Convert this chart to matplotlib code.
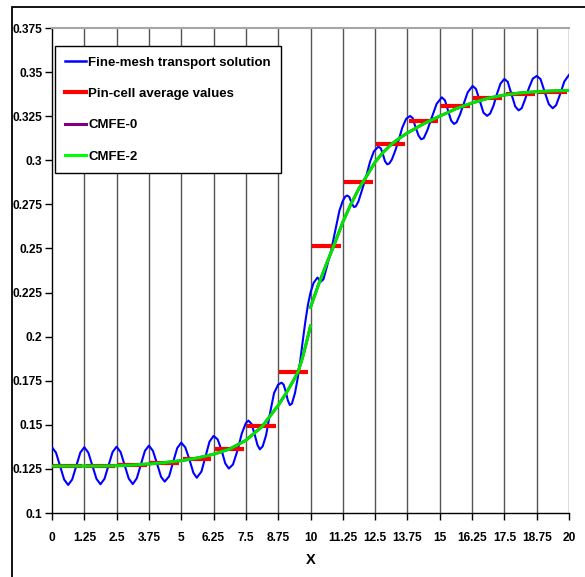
import numpy as np
import matplotlib
matplotlib.use('Agg')
import matplotlib.pyplot as plt
from matplotlib.patches import Rectangle
from matplotlib.lines import Line2D

# fine-mesh transport solution (x, flux)
fine_mesh = [
    (0.000, 0.1373), (0.156, 0.1342), (0.313, 0.1266), (0.469, 0.1190), (0.625, 0.1159), (0.781, 0.1190), (0.938, 0.1266), (1.094, 0.1342),
    (1.250, 0.1373), (1.406, 0.1342), (1.563, 0.1268), (1.719, 0.1194), (1.875, 0.1163), (2.031, 0.1194), (2.188, 0.1270), (2.344, 0.1346),
    (2.500, 0.1376), (2.656, 0.1345), (2.813, 0.1270), (2.969, 0.1195), (3.125, 0.1164), (3.281, 0.1197), (3.438, 0.1274), (3.594, 0.1352),
    (3.750, 0.1382), (3.906, 0.1352), (4.063, 0.1280), (4.219, 0.1205), (4.360, 0.1178), (4.531, 0.1208), (4.688, 0.1290), (4.844, 0.1368),
    (5.000, 0.1399), (5.156, 0.1372), (5.313, 0.1305), (5.469, 0.1228), (5.600, 0.1200), (5.781, 0.1235), (5.938, 0.1320), (6.094, 0.1405),
    (6.250, 0.1437), (6.406, 0.1418), (6.563, 0.1355), (6.700, 0.1282), (6.840, 0.1252), (7.000, 0.1275), (7.188, 0.1360), (7.340, 0.1450),
    (7.500, 0.1510), (7.600, 0.1524), (7.720, 0.1505), (7.840, 0.1445), (7.950, 0.1385), (8.040, 0.1361), (8.150, 0.1378), (8.280, 0.1440),
    (8.440, 0.1570), (8.590, 0.1680), (8.750, 0.1728), (8.880, 0.1739), (8.960, 0.1728), (9.040, 0.1690), (9.120, 0.1640), (9.200, 0.1612),
    (9.280, 0.1620), (9.400, 0.1680), (9.500, 0.1760), (9.600, 0.1860), (9.700, 0.1975), (9.800, 0.2085), (9.900, 0.2180), (10.00, 0.2250),
    (10.12, 0.2305), (10.27, 0.2335), (10.40, 0.2312), (10.50, 0.2325), (10.63, 0.2395), (10.80, 0.2490), (11.00, 0.2630), (11.12, 0.2715),
    (11.25, 0.2770), (11.35, 0.2795), (11.42, 0.2800), (11.50, 0.2792), (11.60, 0.2755), (11.68, 0.2735), (11.75, 0.2738), (11.85, 0.2765),
    (11.98, 0.2825), (12.15, 0.2906), (12.30, 0.2990), (12.45, 0.3050), (12.62, 0.3077), (12.72, 0.3068), (12.80, 0.3035), (12.88, 0.2995),
    (12.97, 0.2977), (13.05, 0.2982), (13.15, 0.3005), (13.28, 0.3055), (13.41, 0.3114), (13.55, 0.3185), (13.70, 0.3235), (13.85, 0.3251),
    (13.95, 0.3240), (14.07, 0.3185), (14.18, 0.3140), (14.28, 0.3119), (14.38, 0.3125), (14.52, 0.3170), (14.68, 0.3238), (14.88, 0.3320),
    (15.08, 0.3357), (15.20, 0.3340), (15.32, 0.3282), (15.44, 0.3225), (15.55, 0.3206), (15.65, 0.3215), (15.78, 0.3258), (15.91, 0.3313),
    (16.08, 0.3385), (16.27, 0.3421), (16.40, 0.3405), (16.55, 0.3337), (16.69, 0.3270), (16.83, 0.3252), (16.95, 0.3265), (17.08, 0.3310),
    (17.20, 0.3370), (17.35, 0.3435), (17.50, 0.3461), (17.63, 0.3445), (17.78, 0.3372), (17.92, 0.3305), (18.05, 0.3283), (18.17, 0.3295),
    (18.30, 0.3345), (18.45, 0.3410), (18.60, 0.3463), (18.75, 0.3478), (18.90, 0.3460), (19.06, 0.3387), (19.22, 0.3318), (19.37, 0.3295),
    (19.50, 0.3312), (19.65, 0.3372), (19.82, 0.3447), (20.00, 0.3484),
]

# pin-cell averages, one per 1.25 cm cell
pin_width = 1.25
pin_avg = [0.1266, 0.1266, 0.1272, 0.1285, 0.1305, 0.1363, 0.1492, 0.1800,
           0.2514, 0.2877, 0.3092, 0.3224, 0.3305, 0.3352, 0.3378, 0.3387]

# CMFE reconstructions, two pieces (discontinuous at x = 10)
cmfe_x_left = [0, 0.625, 1.25, 1.875, 2.5, 3.125, 3.75, 4.375, 5, 5.625, 6.25, 6.875,
               7.5, 8.125, 8.75, 9.06, 9.375, 9.53, 9.69, 9.84, 10]
cmfe2_left = [0.1266, 0.1266, 0.1266, 0.1266, 0.1268, 0.1272, 0.1278, 0.1286, 0.1297, 0.1312,
              0.1333, 0.1363, 0.1412, 0.1490, 0.1610, 0.1680, 0.1760, 0.1805, 0.1880, 0.1965, 0.2060]
cmfe_x_right = [10, 10.31, 10.625, 10.94, 11.25, 11.56, 11.875, 12.19, 12.5, 12.81, 13.125,
                13.44, 13.75, 14.375, 15, 15.625, 16.25, 16.875, 17.5, 18.125, 18.75, 19.375, 20]
cmfe2_right = [0.2166, 0.2295, 0.2415, 0.2530, 0.2650, 0.2750, 0.2840, 0.2915, 0.2990, 0.3045,
               0.3090, 0.3125, 0.3155, 0.3207, 0.3250, 0.3292, 0.3325, 0.3352, 0.3370, 0.3382,
               0.3389, 0.3393, 0.3396]
cmfe0_left = list(cmfe2_left)
cmfe0_right = list(cmfe2_right)

xticks = [0, 1.25, 2.5, 3.75, 5, 6.25, 7.5, 8.75, 10, 11.25, 12.5, 13.75, 15, 16.25, 17.5, 18.75, 20]
xtick_labels = ['0', '1.25', '2.5', '3.75', '5', '6.25', '7.5', '8.75', '10', '11.25', '12.5',
                '13.75', '15', '16.25', '17.5', '18.75', '20']
yticks = [0.1, 0.125, 0.15, 0.175, 0.2, 0.225, 0.25, 0.275, 0.3, 0.325, 0.35, 0.375]
ytick_labels = ['0.1', '0.125', '0.15', '0.175', '0.2', '0.225', '0.25', '0.275', '0.3',
                '0.325', '0.35', '0.375']

plt.rcParams['font.family'] = ['Liberation Sans', 'DejaVu Sans']
plt.rcParams['font.weight'] = 'bold'

W, H = 585, 577
fig = plt.figure(figsize=(W / 100, H / 100), dpi=100)
ax = fig.add_axes([52 / W, 1 - 513 / H, 517 / W, 485 / H])

# outer chart frame
fig.add_artist(Rectangle((12 / W, -0.1), 1.2, 1.1 - 7 / H, transform=fig.transFigure,
                         fill=False, edgecolor='black', lw=1.3))

fx = [p[0] for p in fine_mesh]
fy = [p[1] for p in fine_mesh]
ax.plot(fx, fy, color='#0000ff', lw=1.5, zorder=3)

for i, v in enumerate(pin_avg):
    x0 = i * pin_width
    ax.plot([x0 + 0.05, x0 + pin_width - 0.08], [v, v], color='#ff0000', lw=3.0,
            solid_capstyle='butt', zorder=4)

for xs, ys in [(cmfe_x_left, cmfe0_left), (cmfe_x_right, cmfe0_right)]:
    ax.plot(xs, ys, color='#800080', lw=2.0, zorder=5)
for xs, ys in [(cmfe_x_left, cmfe2_left), (cmfe_x_right, cmfe2_right)]:
    ax.plot(xs, ys, color='#00e600', lw=2.2, zorder=6)

ax.set_xlim(0, 20)
ax.set_ylim(0.1, 0.375)
ax.set_xticks(xticks)
ax.set_xticklabels(xtick_labels)
ax.set_yticks(yticks)
ax.set_yticklabels(ytick_labels)
ax.tick_params(axis='both', direction='out', length=5, width=1, labelsize=8.6)
ax.tick_params(axis='x', pad=9)
ax.tick_params(axis='y', pad=2)

for x in xticks[1:]:
    ax.axvline(x, color='#555555', lw=1.0, zorder=1)

ax.spines['left'].set_linewidth(1.0)
ax.spines['bottom'].set_linewidth(1.0)
ax.spines['top'].set_color('#a6a6a6')
ax.spines['top'].set_linewidth(1.5)
ax.spines['right'].set_visible(False)

ax.set_xlabel('X', fontsize=10.5, fontweight='bold', labelpad=6)

handles = [Line2D([], [], color='#0000ff', lw=1.8),
           Line2D([], [], color='#ff0000', lw=3.0),
           Line2D([], [], color='#800080', lw=2.2),
           Line2D([], [], color='#00ff00', lw=2.2)]
labels = ['Fine-mesh transport solution', 'Pin-cell average values', 'CMFE-0', 'CMFE-2']
leg = ax.legend(handles, labels, loc='upper left', bbox_to_anchor=(55 / W, 1 - 46 / H),
                bbox_transform=fig.transFigure, frameon=True, fancybox=False,
                edgecolor='black', framealpha=1, prop={'size': 9.5, 'weight': 'bold'},
                handlelength=1.6, handletextpad=0.15, labelspacing=1.45, borderpad=0.78,
                borderaxespad=0)
leg.get_frame().set_linewidth(1.0)
leg.set_zorder(10)

fig.savefig('out.png', dpi=100)
